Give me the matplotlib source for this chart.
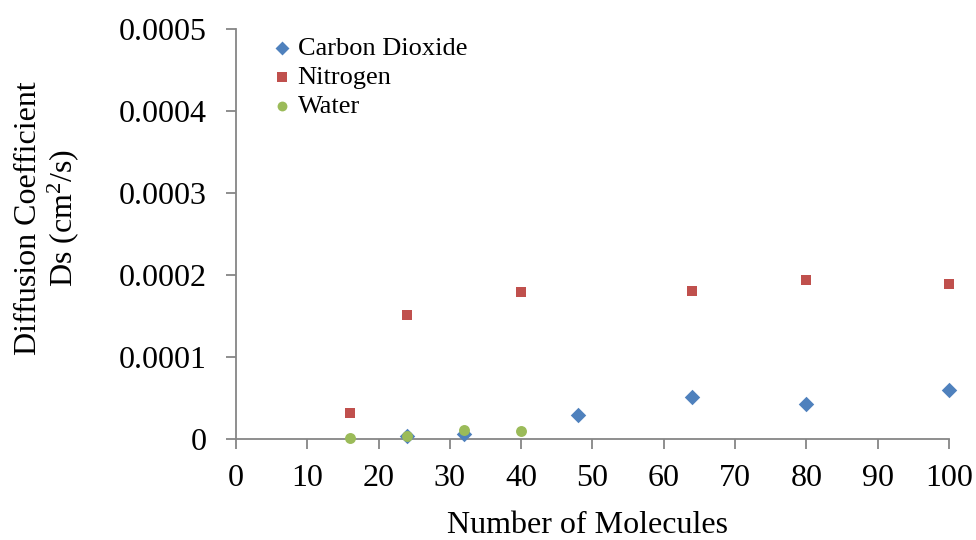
import matplotlib
matplotlib.use("Agg")
import matplotlib.pyplot as plt

plt.rcParams['font.family'] = ['Liberation Serif', 'DejaVu Serif']
plt.rcParams['mathtext.fontset'] = 'custom'
plt.rcParams['mathtext.rm'] = 'Liberation Serif'
plt.rcParams['mathtext.it'] = 'Liberation Serif:italic'

# Diffusion coefficients (cm^2/s) versus number of molecules
co2_n = [24, 32, 48, 64, 80, 100]
co2_ds = [4.5e-6, 6.5e-6, 2.9e-5, 5.15e-5, 4.35e-5, 6.05e-5]

n2_n = [16, 24, 40, 64, 80, 100]
n2_ds = [3.2e-5, 1.51e-4, 1.79e-4, 1.81e-4, 1.94e-4, 1.89e-4]

water_n = [16, 24, 32, 40]
water_ds = [1.6e-6, 3.6e-6, 1.1e-5, 9.8e-6]

x_ticks = list(range(0, 101, 10))
y_ticks = [0, 0.0001, 0.0002, 0.0003, 0.0004, 0.0005]
y_tick_labels = ['0', '0.0001', '0.0002', '0.0003', '0.0004', '0.0005']

fig = plt.figure(figsize=(9.76, 5.4), dpi=100)
ax = fig.add_axes([0.2418, 0.1865, 0.7305, 0.7598])

ax.scatter(co2_n, co2_ds, marker='D', s=62, color='#4F81BD', label='Carbon Dioxide',
           linewidths=0, zorder=3, clip_on=False)
ax.scatter(n2_n, n2_ds, marker='s', s=62, color='#C0504D', label='Nitrogen',
           linewidths=0, zorder=3, clip_on=False)
ax.scatter(water_n, water_ds, marker='o', s=62, color='#9BBB59', label='Water',
           linewidths=0, zorder=3, clip_on=False)

ax.set_xlim(0, 100)
ax.set_ylim(0, 0.0005)
ax.set_xticks(x_ticks)
ax.set_yticks(y_ticks)
ax.set_yticklabels(y_tick_labels)

axis_color = '#868686'
for side in ['top', 'right']:
    ax.spines[side].set_visible(False)
for side in ['left', 'bottom']:
    ax.spines[side].set_color(axis_color)
    ax.spines[side].set_linewidth(1.3)
ax.tick_params(axis='both', direction='out', length=7, width=1.3, color=axis_color,
               labelsize=23, labelcolor='black')
ax.tick_params(axis='y', pad=14)
ax.tick_params(axis='x', pad=11)

ax.set_xlabel('Number of Molecules', fontsize=23)
ax.xaxis.set_label_coords(0.493, -0.175)
ax.set_ylabel('Diffusion Coefficient\nDs (cm$^{2}$/s)', fontsize=23,
              linespacing=1.05)
ax.yaxis.set_label_coords(-0.218, 0.539)

leg = ax.legend(loc='upper left', bbox_to_anchor=(0.031, 1.008), frameon=False,
                fontsize=19, handletextpad=0.1, labelspacing=0.22, borderaxespad=0.0,
                handlelength=1.0, markerscale=0.9)

fig.savefig('out.png', dpi=100)
